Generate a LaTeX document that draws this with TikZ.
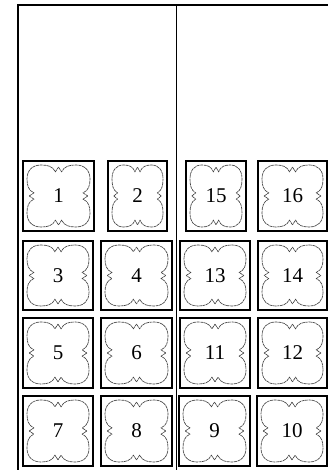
\documentclass[tikz,border=0pt]{standalone}
\usepackage{fontspec}
\setmainfont{Liberation Serif}
\usepackage{tikz}

\tikzset{
  fusebox/.style={draw,line width=2.2pt,inner sep=0pt,font=\fontsize{21}{24}\selectfont},
  frameline/.style={line width=1.2pt},
  cloudline/.style={draw=black!75,line width=0.65pt,dash pattern=on 3pt off 0.6pt},
  cloud/.pic={
    \foreach \a in {0,90,180,270}
      \draw[cloudline,rotate=\a] (0,0.93) -- (0.1,0.78)
        .. controls (0.18,0.96) and (0.35,1) .. (0.55,1)
        .. controls (0.83,1) and (1,0.83) .. (1,0.55)
        .. controls (1,0.35) and (0.96,0.18) .. (0.78,0.1) -- (0.93,0);
  }
}

\begin{document}
\begin{tikzpicture}[x=1pt,y=1pt]
  \useasboundingbox (0,0) rectangle (328,470);

  % Outer frame, split in two halves.
  \coordinate (tl) at (18,465);
  \coordinate (tr) at (328,465);
  \coordinate (tm) at (176.5,465);
  \draw[frameline] (18,0) -- (tl) -- (tr);
  \draw[frameline] (tm) -- (176.5,0);

  % Fuse boxes: number / centre x / centre y / width / height.
  \foreach \n/\cx/\cy/\w/\h in {
      1/58.5/274/71/70, 2/137.5/274/59/70, 15/216/274/60/70, 16/292.5/274/69/70,
      3/58/194.5/70/69, 4/136.5/194.5/71/69, 13/215/194.5/70/69, 14/292.5/194.5/69/69,
      5/58/117/70/70, 6/136.5/117/71/70, 11/215/117/70/70, 12/292.5/117/69/70,
      7/58/39/70/70, 8/136.5/39/71/70, 9/214.5/39/71/70, 10/292/39/70/70}{
    \node[fusebox,minimum width=\w,minimum height=\h] (f\n) at (\cx,\cy) {\n};
    \pic[xscale=\w/2-4,yscale=\h/2-4] at (f\n.center) {cloud};
  }
\end{tikzpicture}
\end{document}
